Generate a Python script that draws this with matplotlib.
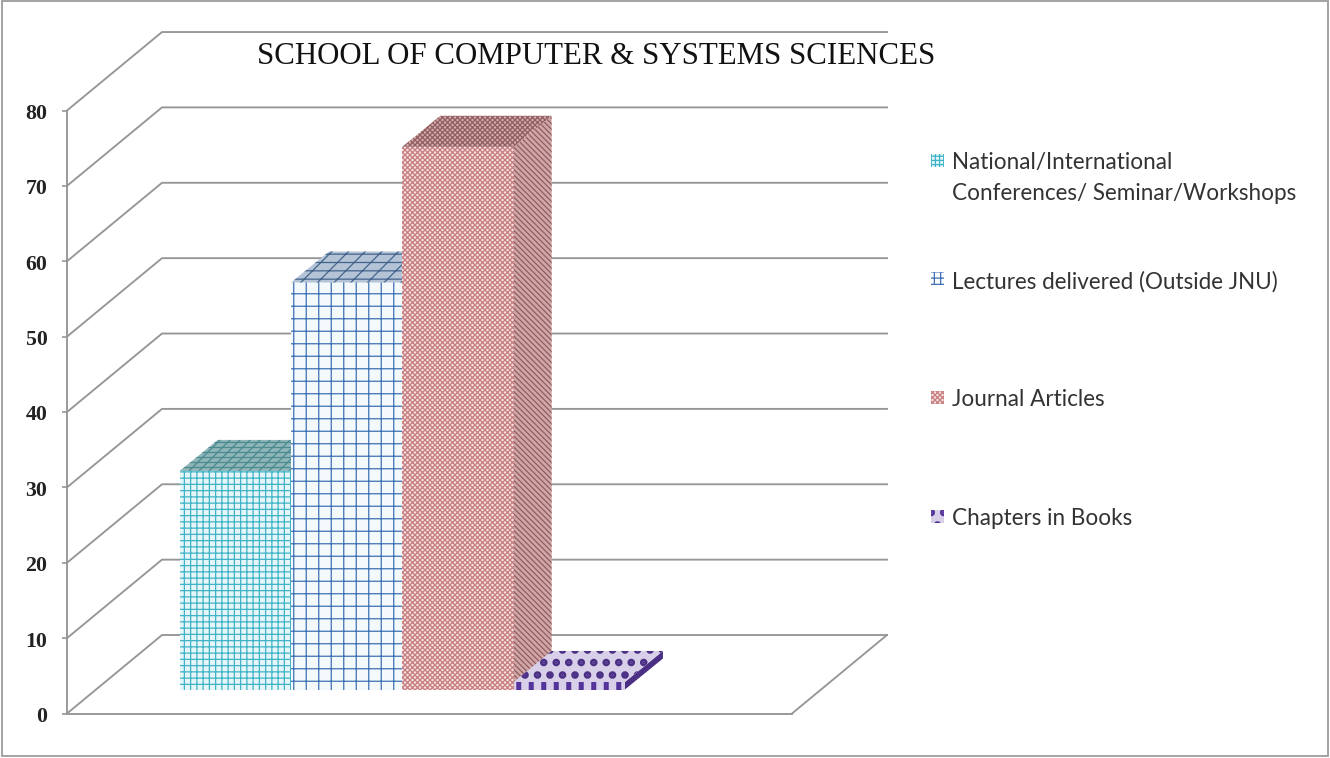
import matplotlib
matplotlib.use("Agg")
import matplotlib.pyplot as plt
from matplotlib.patches import Polygon, Rectangle

categories = [
    "National/International\nConferences/ Seminar/Workshops",
    "Lectures delivered (Outside JNU)",
    "Journal Articles",
    "Chapters in Books",
]
values = [29, 54, 72, 1]
y_ticks = [0, 10, 20, 30, 40, 50, 60, 70, 80]

face_colors = ["#e6f6f8", "#f4f9fc", "#f8dede", "#d8d0e8"]
hatch_colors = ["#3fb4c8", "#3f70b4", "#c47c7e", "#54349a"]
front_hatches = ["++++", "++", "x" * 10, "||"]
top_colors = ["#8fb6b8", "#b4c4d6", "#d3abab", "#d8d0e8"]
top_hatch_colors = ["#4a8a90", "#44648c", "#8f5d5f", "#4a2f85"]
top_hatches = ["-----/////", "---///", "x" * 10, ".."]
side_colors = ["#8fb6b8", "#b4c4d6", "#d0a6a6", "#4a2f85"]
side_hatches = ["////", "////", "\\" * 9, ""]
legend_hatches = ["++++++", "++++", "x" * 10, ".."]
# only the chapters bar has a coarse, heavy check
hatch_widths = [0.6, 0.6, 0.6, 2.4]

W, H = 1330, 759
DPI = 150
plt.rcParams["hatch.linewidth"] = 0.6

# pixels per data unit, used for the oblique 3d look
x_px = 111.3
y_px = 7.54
wall_dx, wall_dy = 95 / x_px, 78.5 / y_px
bar_dx, bar_dy = 27.6 / x_px, 24 / y_px
depth_dx, depth_dy = 38 / x_px, 31 / y_px
GRID = "#969696"

fig = plt.figure(figsize=(W / DPI, H / DPI), dpi=DPI)
ax = fig.add_axes([67 / W, 1 - 714.5 / H, 725 / W, 603 / H])
ax.set_xlim(-1.265, 5.249)
ax.set_ylim(0, 80)
xmin, xmax = ax.get_xlim()

# back wall, side wall and floor
for v in y_ticks:
    ax.plot([xmin, xmin + wall_dx, xmax + wall_dx], [v, v + wall_dy, v + wall_dy],
            color=GRID, lw=0.9, clip_on=False, zorder=1)
ax.plot([xmax, xmax + wall_dx], [0, wall_dy], color=GRID, lw=0.9, clip_on=False, zorder=1)

for i, cat in enumerate(categories):
    x0 = i - 0.5 + bar_dx
    x1 = x0 + 1
    base = bar_dy
    top = base + values[i]
    front = ax.bar(x0 + 0.5, values[i], width=1, bottom=base, color=face_colors[i],
                   edgecolor=hatch_colors[i], hatch=front_hatches[i], lw=0, clip_on=False, zorder=3 + i)
    top_face = Polygon([(x0, top), (x1, top), (x1 + depth_dx, top + depth_dy), (x0 + depth_dx, top + depth_dy)],
                       facecolor=top_colors[i], edgecolor=top_hatch_colors[i], hatch=top_hatches[i],
                       lw=0, clip_on=False, zorder=3 + i)
    ax.add_patch(top_face)
    top_face.set_hatch_linewidth(hatch_widths[i])
    front[0].set_hatch_linewidth(hatch_widths[i])
    ax.add_patch(Polygon([(x1, base), (x1, top), (x1 + depth_dx, top + depth_dy), (x1 + depth_dx, base + depth_dy)],
                         facecolor=side_colors[i], edgecolor=top_hatch_colors[i], hatch=side_hatches[i],
                         lw=0, clip_on=False, zorder=2.5 + i))

for s in ["top", "right"]:
    ax.spines[s].set_visible(False)
for s in ["left", "bottom"]:
    ax.spines[s].set_color(GRID)
    ax.spines[s].set_linewidth(0.9)
ax.set_xticks([])
ax.set_yticks(y_ticks)
ax.tick_params(axis="y", length=2.4, width=0.8, color=GRID, pad=7)
for lab in ax.get_yticklabels():
    lab.set_fontfamily("Liberation Serif")
    lab.set_fontweight("bold")
    lab.set_fontsize(10.5)
    lab.set_color("#222222")

fig.text(596 / W, 1 - 57 / H, "SCHOOL OF COMPUTER & SYSTEMS SCIENCES", family="Liberation Serif",
         fontsize=14.8, color="#111111", ha="center", va="center")

# legend rows are spaced by their first line, two line label included
for i, cat in enumerate(categories):
    y = 161 + i * 118.7
    handle = Rectangle((931 / W, 1 - (y + 6.5) / H), 13 / W, 13 / H, transform=fig.transFigure,
                       facecolor="white" if i == 1 else face_colors[i], edgecolor=hatch_colors[i],
                       hatch=legend_hatches[i], lw=0, figure=fig)
    handle.set_hatch_linewidth(hatch_widths[i])
    fig.patches.append(handle)
    fig.text(952 / W, 1 - (y - 9) / H, cat, family="Lato", fontsize=10.8, color="#333333",
             ha="left", va="top", linespacing=1.6)

# thin frame round the whole picture
fig.patches.append(Rectangle((2 / W, 2 / H), (W - 4) / W, (H - 4) / H, transform=fig.transFigure,
                             facecolor="none", edgecolor="#a0a0a0", lw=0.9, figure=fig))

fig.savefig("out.png", dpi=DPI)
